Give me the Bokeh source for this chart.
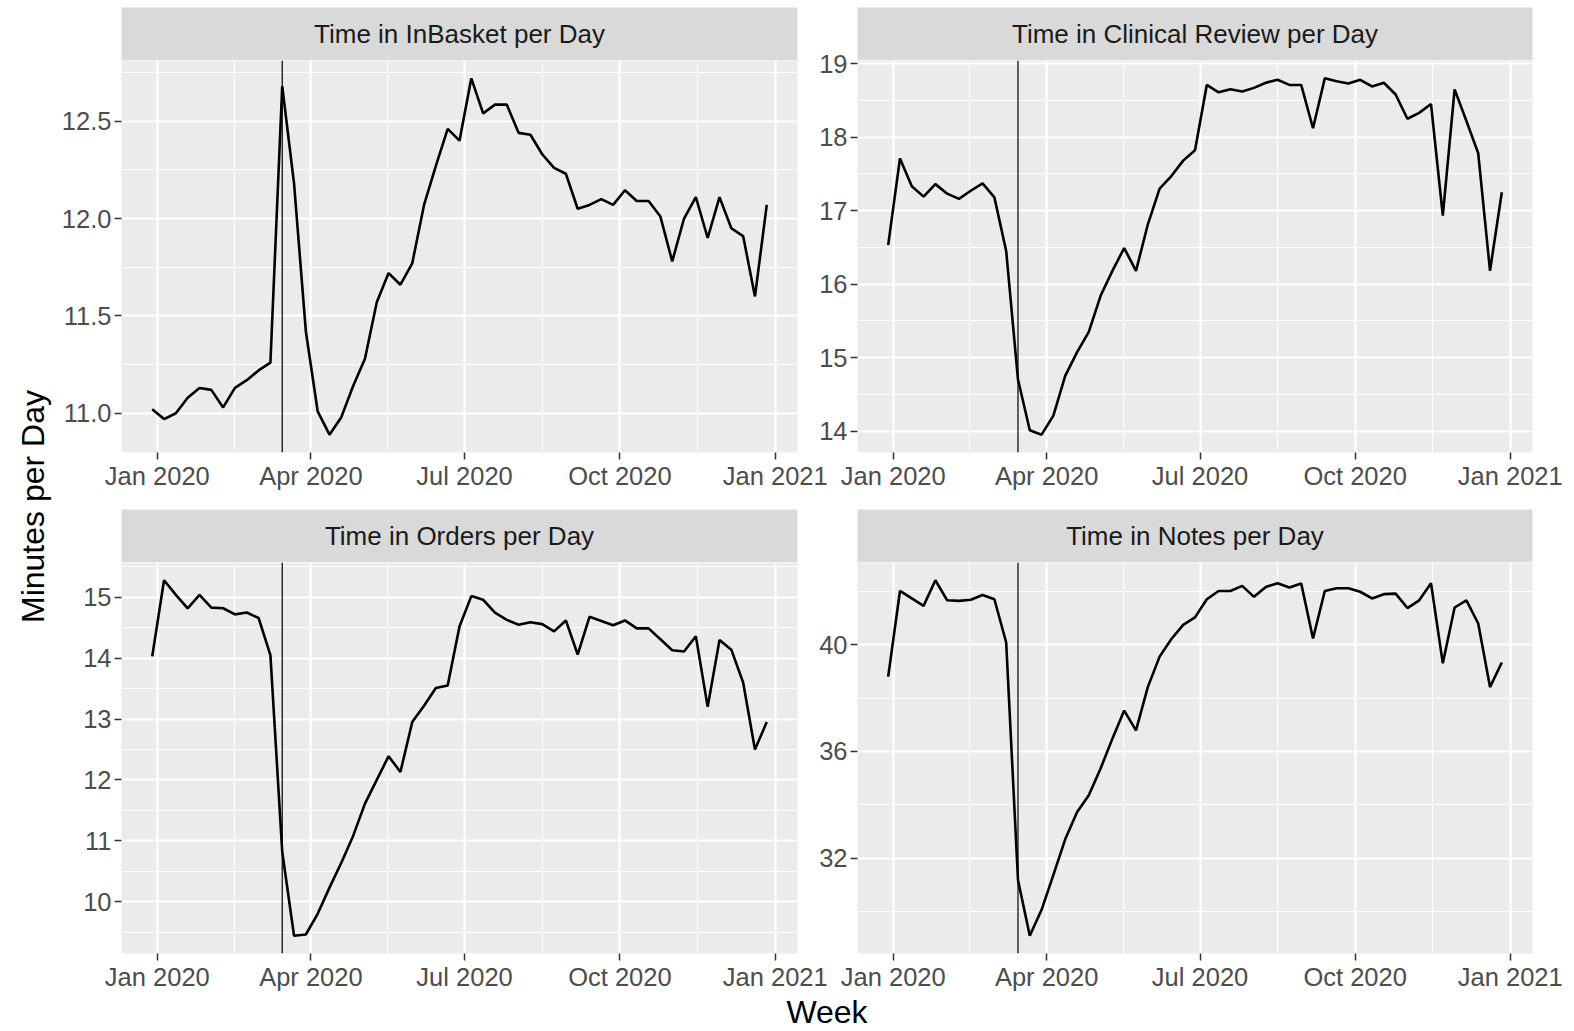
import pandas as pd
from math import pi
from bokeh.plotting import figure
from bokeh.layouts import row, column
from bokeh.models import (Range1d, FixedTicker, DatetimeTickFormatter,
                          PrintfTickFormatter, Span, ColumnDataSource)
from bokeh.core.properties import value
from bokeh.embed import file_html
from bokeh.resources import INLINE

# ---------------- data ----------------
# weekly observations (week starting Sundays), Dec 29 2019 .. Dec 27 2020
weeks = pd.date_range("2019-12-29", periods=53, freq="7D")
event_date = "2020-03-15"

inbasket = [11.02, 10.97, 11.00, 11.08, 11.13, 11.12, 11.03, 11.13, 11.17, 11.22,
            11.26, 12.68, 12.18, 11.42, 11.01, 10.89, 10.98, 11.14, 11.28, 11.57,
            11.72, 11.66, 11.77, 12.07, 12.27, 12.46, 12.40, 12.72, 12.54, 12.585,
            12.585, 12.44, 12.43, 12.33, 12.26, 12.23, 12.05, 12.07, 12.10, 12.07,
            12.145, 12.09, 12.09, 12.01, 11.78, 12.00, 12.11, 11.90, 12.11, 11.95,
            11.91, 11.60, 12.07]

clinical = [16.53, 17.71, 17.33, 17.19, 17.36, 17.23, 17.16, 17.27, 17.37, 17.18,
            16.45, 14.70, 14.01, 13.95, 14.21, 14.75, 15.07, 15.35, 15.84, 16.18,
            16.49, 16.18, 16.81, 17.30, 17.47, 17.68, 17.82, 18.71, 18.61, 18.65,
            18.62, 18.67, 18.74, 18.78, 18.71, 18.71, 18.12, 18.80, 18.76, 18.73,
            18.78, 18.69, 18.74, 18.58, 18.25, 18.33, 18.45, 16.93, 18.65, 18.22,
            17.78, 16.18, 17.25]

orders = [14.03, 15.28, 15.04, 14.82, 15.04, 14.83, 14.82, 14.72, 14.75, 14.66,
          14.05, 10.82, 9.44, 9.46, 9.80, 10.23, 10.64, 11.08, 11.61, 12.00,
          12.39, 12.13, 12.95, 13.22, 13.51, 13.55, 14.52, 15.02, 14.96, 14.75,
          14.63, 14.55, 14.59, 14.56, 14.44, 14.62, 14.06, 14.68, 14.61, 14.54,
          14.62, 14.49, 14.49, 14.31, 14.13, 14.11, 14.36, 13.20, 14.30, 14.14,
          13.60, 12.50, 12.95]

notes = [38.80, 42.01, 41.73, 41.45, 42.41, 41.66, 41.64, 41.68, 41.86, 41.70,
         40.08, 31.19, 29.10, 30.07, 31.38, 32.71, 33.72, 34.36, 35.36, 36.48,
         37.53, 36.79, 38.41, 39.55, 40.21, 40.74, 41.02, 41.70, 42.01, 42.01,
         42.20, 41.79, 42.16, 42.30, 42.14, 42.29, 40.23, 42.01, 42.11, 42.11,
         41.98, 41.73, 41.89, 41.91, 41.37, 41.66, 42.30, 39.30, 41.39, 41.66,
         40.79, 38.41, 39.33]

titles = ["Time in InBasket per Day", "Time in Clinical Review per Day",
          "Time in Orders per Day", "Time in Notes per Day"]

x_tick_dates = ["2020-01-01", "2020-04-01", "2020-07-01", "2020-10-01", "2021-01-01"]

y_ticks_inbasket = [11.0, 11.5, 12.0, 12.5]
y_minor_inbasket = [10.75, 11.25, 11.75, 12.25, 12.75]
y_ticks_clinical = [14, 15, 16, 17, 18, 19]
y_minor_clinical = [13.5, 14.5, 15.5, 16.5, 17.5, 18.5, 19.5]
y_ticks_orders = [10, 11, 12, 13, 14, 15]
y_minor_orders = [9.5, 10.5, 11.5, 12.5, 13.5, 14.5, 15.5]
y_ticks_notes = [32, 36, 40]
y_minor_notes = [30, 34, 38, 42]

x_label = "Week"
y_label = "Minutes per Day"

# ---------------- styling ----------------
FONT = "Liberation Sans"
PANEL_BG = "#EBEBEB"
STRIP_BG = "#D9D9D9"
TICK_FONT = "25.5px"
OVER = 16  # plot canvas extends this far above its frame (for the top tick label)


def ms(d):
    return pd.Timestamp(d).value / 1e6


x_major = [ms(d) for d in x_tick_dates]
x_minor = [(a + b) / 2 for a, b in zip(x_major[:-1], x_major[1:])]
x0, x1 = ms(weeks[0]), ms(weeks[-1])
xpad = 0.05 * (x1 - x0)


def make_panel(vals, title, yticks, yminor, fmt, col, strip_top, frame_h, bottom_border):
    bl, br = (69, 33) if col == 0 else (47, 36)
    fw = 676 if col == 0 else 675
    W = bl + fw + br

    strip = figure(width=W, height=53 + strip_top, x_range=Range1d(0, 1), y_range=Range1d(0, 1),
                   toolbar_location=None, output_backend="svg",
                   x_axis_location=None, y_axis_location=None,
                   min_border_left=bl, min_border_right=br,
                   min_border_top=strip_top, min_border_bottom=0,
                   background_fill_color=STRIP_BG, border_fill_color=None,
                   outline_line_color=None)
    strip.grid.visible = False
    strip.text(x=[0.5], y=[0.5], text=[title], text_align="center",
               text_baseline="middle", text_font=value(FONT),
               text_font_size=value("26px"), text_color="#1A1A1A")

    lo, hi = min(vals), max(vals)
    pad = 0.05 * (hi - lo)
    p = figure(width=W, height=OVER + frame_h + bottom_border, x_axis_type="datetime",
               x_range=Range1d(x0 - xpad, x1 + xpad),
               y_range=Range1d(lo - pad, hi + pad),
               toolbar_location=None, output_backend="svg",
               min_border_left=bl, min_border_right=br,
               min_border_top=OVER, min_border_bottom=bottom_border,
               background_fill_color=PANEL_BG, border_fill_color=None,
               outline_line_color=None, margin=(-OVER, 0, 0, 0))

    xt = FixedTicker(ticks=x_major, minor_ticks=x_minor)
    yt = FixedTicker(ticks=yticks, minor_ticks=yminor)
    p.xaxis.ticker = xt
    p.yaxis.ticker = yt
    p.xgrid.ticker = xt
    p.ygrid.ticker = yt
    f = "%b %Y"
    p.xaxis.formatter = DatetimeTickFormatter(
        microseconds=f, milliseconds=f, seconds=f, minsec=f, minutes=f,
        hourmin=f, hours=f, days=f, months=f, years=f)
    p.yaxis.formatter = PrintfTickFormatter(format=fmt)

    for g in (p.xgrid, p.ygrid):
        g.grid_line_color = "white"
        g.grid_line_width = 2.2
        g.minor_grid_line_color = "white"
        g.minor_grid_line_width = 1.1

    p.axis.axis_line_color = None
    p.axis.major_tick_line_color = "#333333"
    p.axis.major_tick_line_width = 1.5
    p.axis.major_tick_out = 7
    p.axis.major_tick_in = 0
    p.axis.minor_tick_line_color = None
    p.axis.major_label_text_color = "#4D4D4D"
    p.axis.major_label_text_font = FONT
    p.axis.major_label_text_font_size = TICK_FONT
    p.xaxis.major_label_standoff = 2
    p.yaxis.major_label_standoff = 3

    src = ColumnDataSource(dict(week=weeks, v=vals))
    p.line(x="week", y="v", source=src, line_color="black", line_width=2.6)
    p.add_layout(Span(location=ms(event_date), dimension="height",
                      line_color="black", line_width=1.2))
    return strip, p


s1, p1 = make_panel(inbasket, titles[0], y_ticks_inbasket, y_minor_inbasket, "%.1f", 0, 7, 392, 57)
s2, p2 = make_panel(clinical, titles[1], y_ticks_clinical, y_minor_clinical, "%d", 1, 7, 392, 57)
s3, p3 = make_panel(orders, titles[2], y_ticks_orders, y_minor_orders, "%d", 0, 0, 391, 44)
s4, p4 = make_panel(notes, titles[3], y_ticks_notes, y_minor_notes, "%d", 1, 0, 391, 44)

TOP_H = 60 + 392 + 57 + 53 + 391 + 44   # 997

ylab = figure(width=52, height=TOP_H, x_range=Range1d(0, 52), y_range=Range1d(0, TOP_H),
              toolbar_location=None, output_backend="svg",
              x_axis_location=None, y_axis_location=None,
              min_border=0, outline_line_color=None,
              background_fill_color=None, border_fill_color=None)
ylab.grid.visible = False
ylab.text(x=[32], y=[TOP_H - 506], text=[y_label], angle=pi / 2,
          text_align="center", text_baseline="middle", text_font=value(FONT),
          text_font_size=value("32px"), text_color="black")

WEEK_W = 1568
WEEK_UP = 11          # overlaps the (transparent) bottom border of the panels above
WEEK_H = 33 + WEEK_UP
weekfig = figure(width=WEEK_W, height=WEEK_H, x_range=Range1d(0, WEEK_W), y_range=Range1d(0, WEEK_H),
                 toolbar_location=None, output_backend="svg",
                 x_axis_location=None, y_axis_location=None,
                 min_border=0, outline_line_color=None,
                 background_fill_color=None, border_fill_color=None,
                 margin=(-WEEK_UP, 0, 0, 0))
weekfig.grid.visible = False
weekfig.text(x=[826.5], y=[19], text=[x_label], text_align="center",
             text_baseline="middle", text_font=value(FONT),
             text_font_size=value("32px"), text_color="black")

left_col = column(s1, p1, s3, p3)
right_col = column(s2, p2, s4, p4, margin=(0, 0, 0, -20))
top = row(ylab, left_col, right_col)
root = column(top, weekfig)

open("out.html", "w").write(file_html(root, INLINE))
